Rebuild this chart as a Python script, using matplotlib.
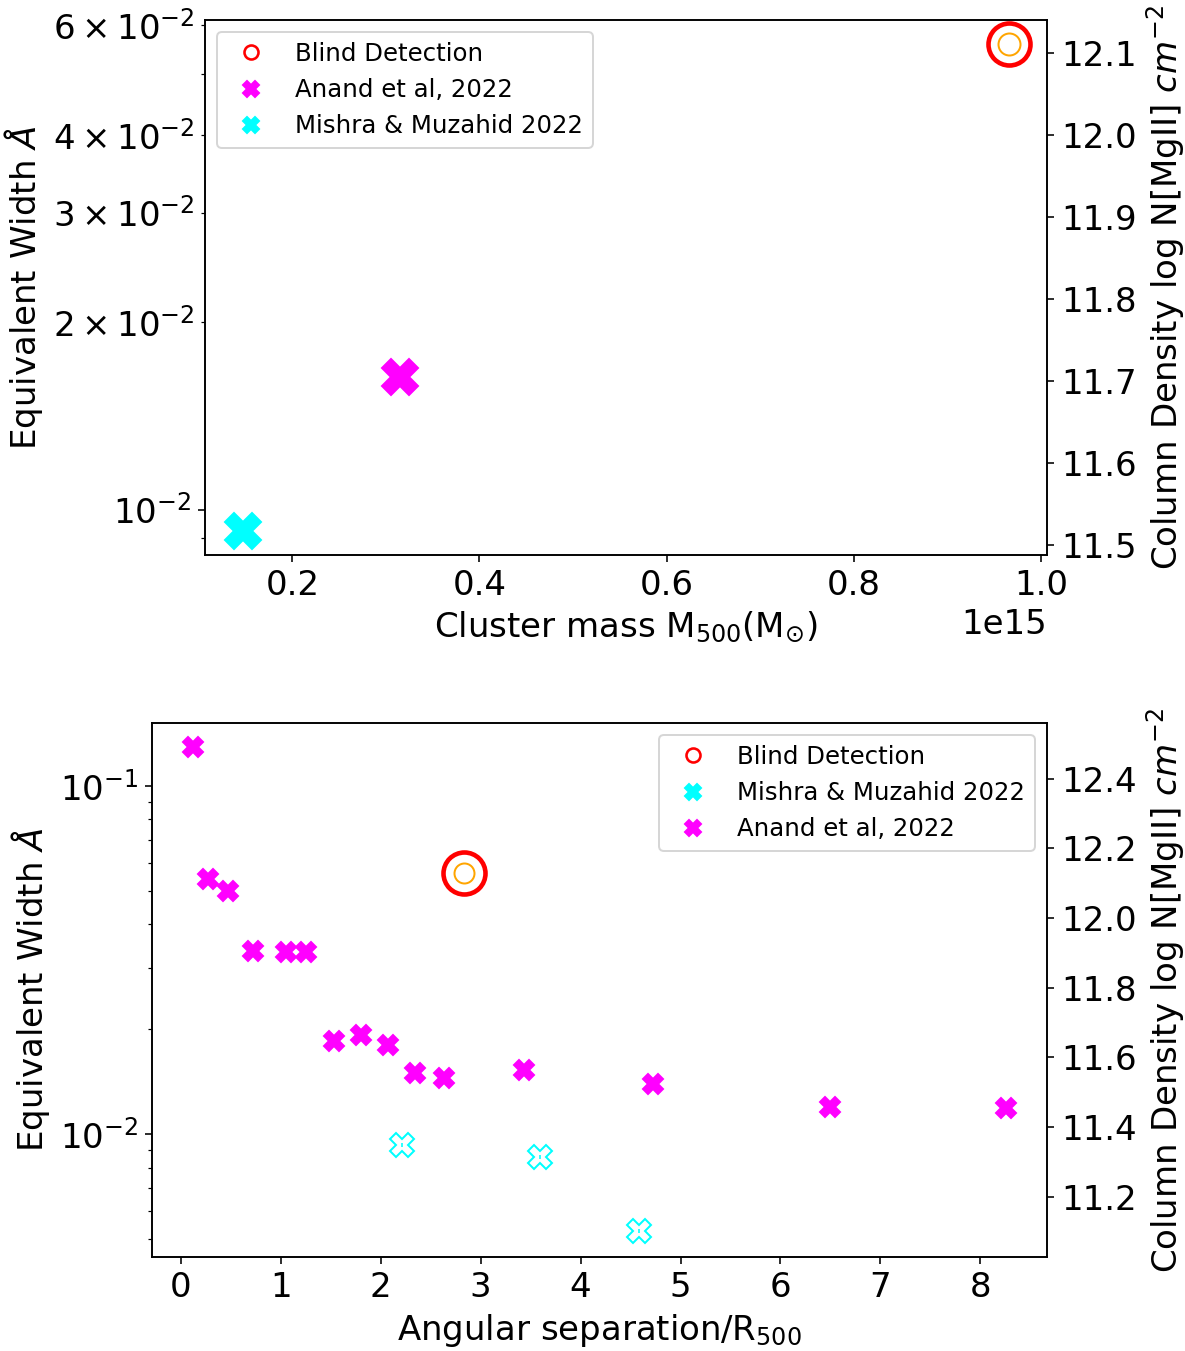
import numpy as np
import matplotlib
matplotlib.use("Agg")
import matplotlib.pyplot as plt
from matplotlib.lines import Line2D
from matplotlib.ticker import MultipleLocator

# equivalent width vs cluster mass
mass_blind = [0.9657e15]
ew_blind_mass = [0.0559]
mass_anand = [0.3147e15]
ew_anand_mass = [0.01635]
mass_mishra = [0.1475e15]
ew_mishra_mass = [0.00925]

# equivalent width vs angular separation
sep_blind = [2.83]
ew_blind_sep = [0.056]
sep_anand = [0.12, 0.27, 0.47, 0.72, 1.05, 1.25, 1.53, 1.80, 2.07, 2.34,
             2.63, 3.43, 4.72, 6.50, 8.26]
ew_anand_sep = [0.129, 0.0539, 0.0498, 0.0336, 0.0333, 0.0333, 0.01845,
                0.0192, 0.01796, 0.01493, 0.01445, 0.01525, 0.0139,
                0.01194, 0.01185]
sep_mishra = [2.21, 3.59, 4.58]
ew_mishra_sep = [0.00931, 0.00859, 0.00528]
ew_err_mishra = [0.00012, 0.00011, 0.00007]

# column density axis limits
logn_lim_mass = (11.488, 12.140)
logn_offset = 13.38  # log N = log EW + offset

plt.rcParams["font.size"] = 17

fig = plt.figure(figsize=(1185 / 144, 1351 / 144), dpi=144)

# top panel: cluster mass
ax1 = fig.add_axes([0.173, 0.5892, 0.7105, 0.396])
ax1.plot(mass_blind, ew_blind_mass, "o", ms=21, mfc="none", mec="red", mew=2.3)
ax1.plot(mass_blind, ew_blind_mass, "o", ms=11, mfc="none", mec="orange", mew=1.0)
ax1.plot(mass_anand, ew_anand_mass, "X", ms=18, color="magenta", mec="magenta")
ax1.plot(mass_mishra, ew_mishra_mass, "X", ms=18, color="cyan", mec="cyan")
ax1.set_yscale("log")
ax1.set_xlabel(r"Cluster mass M$_{\rm 500}$(M$_{\odot}$)")
ax1.set_ylabel(r"Equivalent Width $\AA$")

handles1 = [
    Line2D([], [], ls="none", marker="o", ms=7, mfc="none", mec="red", mew=1.3),
    Line2D([], [], ls="none", marker="X", ms=8, color="magenta"),
    Line2D([], [], ls="none", marker="X", ms=8, color="cyan"),
]
ax1.legend(handles1, ["Blind Detection", "Anand et al, 2022", "Mishra & Muzahid 2022"],
           loc="upper left", fontsize=12.2)

ax1r = ax1.twinx()
ax1r.set_ylim(*logn_lim_mass)
ax1r.yaxis.set_major_locator(MultipleLocator(0.1))
ax1r.set_ylabel(r"Column Density log N[MgII] $cm^{-2}$")

# bottom panel: angular separation
ax2 = fig.add_axes([0.1283, 0.0696, 0.7553, 0.3953])
ax2.plot(sep_blind, ew_blind_sep, "o", ms=21, mfc="none", mec="red", mew=2.3)
ax2.plot(sep_blind, ew_blind_sep, "o", ms=10, mfc="none", mec="orange", mew=1.0)
ax2.errorbar(sep_mishra, ew_mishra_sep, yerr=ew_err_mishra, fmt="X", ms=12,
             mfc="none", mec="cyan", mew=1.0, ecolor="cyan", elinewidth=0.8)
ax2.plot(sep_anand, ew_anand_sep, "X", ms=10, color="magenta", mec="magenta")
ax2.set_yscale("log")
ax2.xaxis.set_major_locator(MultipleLocator(1))
ax2.set_xlabel(r"Angular separation/R$_{\rm 500}$")
ax2.set_ylabel(r"Equivalent Width $\AA$")

handles2 = [
    Line2D([], [], ls="none", marker="o", ms=7, mfc="none", mec="red", mew=1.3),
    Line2D([], [], ls="none", marker="X", ms=8, color="cyan"),
    Line2D([], [], ls="none", marker="X", ms=8, color="magenta"),
]
ax2.legend(handles2, ["Blind Detection", "Mishra & Muzahid 2022", "Anand et al, 2022"],
           loc="upper right", fontsize=12.2)

ax2r = ax2.twinx()
ax2r.set_ylim(np.log10(ax2.get_ylim()) + logn_offset)
ax2r.yaxis.set_major_locator(MultipleLocator(0.2))
ax2r.set_ylabel(r"Column Density log N[MgII] $cm^{-2}$")

fig.savefig("out.png", dpi=144)
